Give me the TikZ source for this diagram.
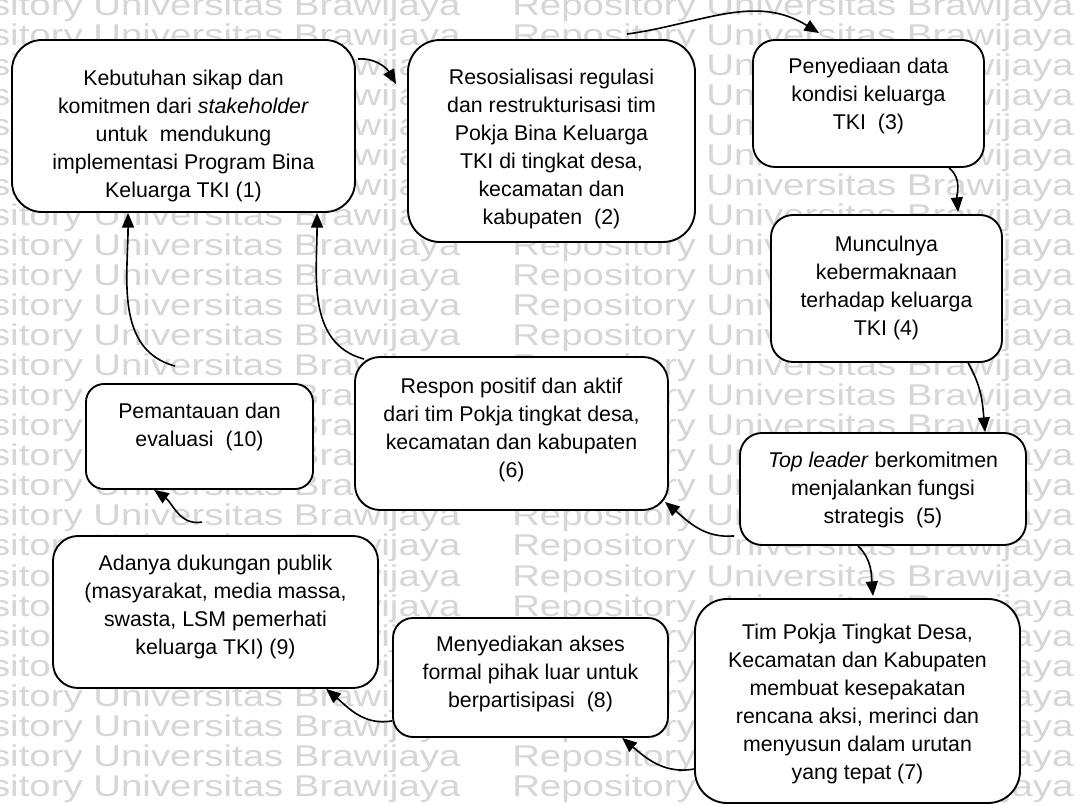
\documentclass[tikz,border=0pt]{standalone}
\usepackage{fontspec}
\setmainfont{Liberation Sans}
\newfontfamily\wmfont[FakeStretch=1.28]{Liberation Sans}
\usetikzlibrary{arrows.meta,calc}

\begin{document}
\begin{tikzpicture}[
  x=0.75pt, y=0.75pt,
  stepbox/.style={draw=black, fill=white, line width=1.4pt, inner sep=0pt},
  sz/.style n args={3}{minimum width=#1*0.75pt, minimum height=#2*0.75pt, rounded corners=#3*0.75pt},
  txt/.style={align=center, inner sep=0pt, font=\fontsize{16pt}{21pt}\selectfont},
  flow/.style={line width=1.2pt, -{Triangle[length=11pt,width=9pt]}},
  wm/.style={anchor=base west, inner sep=0pt, text=black!16,
    font=\wmfont\fontsize{22.5pt}{22.5pt}\selectfont}
]
\useasboundingbox (0,0) rectangle (1075,-805);
\fill[white] (0,0) rectangle (1075,-805);

% repository watermark, tiled in rows
\foreach \k in {0,...,26} {
  \node[wm] (wma-\k) at (-101,{-16-30*\k}) {Repository Universitas Brawijaya};
  \node[wm] (wmb-\k) at (512,{-16-30*\k}) {Repository Universitas Brawijaya};
}

% boxes
\node[stepbox, sz={343}{172}{30}] (b1) at (183.5,-126) {};
\node[stepbox, sz={287}{202}{32}] (b2) at (551.5,-141) {};
\node[stepbox, sz={231}{127}{22}] (b3) at (868.5,-103.5) {};
\node[stepbox, sz={231}{147}{22}] (b4) at (886.5,-288.5) {};
\node[stepbox, sz={286}{112}{22}] (b5) at (883,-489) {};
\node[stepbox, sz={313}{153}{25}] (b6) at (511.5,-433.5) {};
\node[stepbox, sz={325}{204}{32}] (b7) at (857.5,-701) {};
\node[stepbox, sz={275}{119}{20}] (b8) at (530.5,-677.5) {};
\node[stepbox, sz={325}{152}{25}] (b9) at (215.5,-612) {};
\node[stepbox, sz={227}{105}{18}] (b10) at (199.5,-436.5) {};

% texts
\node[txt] (t1) at (183.5,-136) {Kebutuhan sikap dan\\komitmen dari \textit{stakeholder}\\untuk~ mendukung\\implementasi Program Bina\\Keluarga TKI (1)};
\node[txt] (t2) at (551.5,-149) {Resosialisasi regulasi\\dan restrukturisasi tim\\Pokja Bina Keluarga\\TKI di tingkat desa,\\kecamatan dan\\kabupaten~ (2)};
\node[txt] (t3) at (868.5,-96) {Penyediaan data\\kondisi keluarga\\TKI~ (3)};
\node[txt] (t4) at (886.5,-287.5) {Munculnya\\kebermaknaan\\terhadap keluarga\\TKI (4)};
\node[txt] (t5) at (883,-490) {\textit{Top leader} berkomitmen\\menjalankan fungsi\\strategis~ (5)};
\node[txt] (t6) at (511.5,-429.5) {Respon positif dan aktif\\dari tim Pokja tingkat desa,\\kecamatan dan kabupaten\\(6)};
\node[txt] (t7) at (857.5,-704) {Tim Pokja Tingkat Desa,\\Kecamatan dan Kabupaten\\membuat kesepakatan\\rencana aksi, merinci dan\\menyusun dalam urutan\\yang tepat (7)};
\node[txt] (t8) at (530.5,-674) {Menyediakan akses\\formal pihak luar untuk\\berpartisipasi~ (8)};
\node[txt] (t9) at (215.5,-606.5) {Adanya dukungan publik\\(masyarakat, media massa,\\swasta, LSM pemerhati\\keluarga TKI) (9)};
\node[txt] (t10) at (199.5,-427) {Pemantauan dan\\evaluasi~ (10)};

% connectors
\draw[flow] ($(b1.north east)+(2,-20)$) to[out=5,in=120] ($(b2.north west)+(-11,-45)$);
\draw[flow] ($(b2.north west)+(220,5)$) to[out=8,in=148] ($(b3.north west)+(67,6)$);
\draw[flow] ($(b3.south west)+(197,0)$) to[out=-40,in=95] ($(b4.north west)+(188,2)$);
\draw[flow] ($(b4.south west)+(198,0)$) to[out=-60,in=95] ($(b5.north west)+(246,0)$);
\draw[flow] ($(b5.south west)+(-5,10)$) to[out=185,in=-40] ($(b6.south east)+(-4,9)$);
\draw[flow] ($(b5.south west)+(119,0)$) to[out=-45,in=95] ($(b7.north west)+(179,2)$);
\draw[flow] ($(b7.north west)+(0,-171)$) to[out=190,in=-40] ($(b8.south west)+(230,0)$);
\draw[flow] ($(b8.south west)+(0,17)$) to[out=190,in=-40] ($(b9.south west)+(274,0)$);
\draw[flow] ($(b9.north west)+(150,13)$) to[out=190,in=-35] ($(b10.south west)+(69,0)$);
\draw[flow] ($(b10.north west)+(90,17)$) to[out=165,in=-90] ($(b1.south west)+(117,0)$);
\draw[flow] ($(b6.north west)+(10,-3)$) to[out=165,in=-90] ($(b1.south west)+(306,0)$);
\end{tikzpicture}
\end{document}
